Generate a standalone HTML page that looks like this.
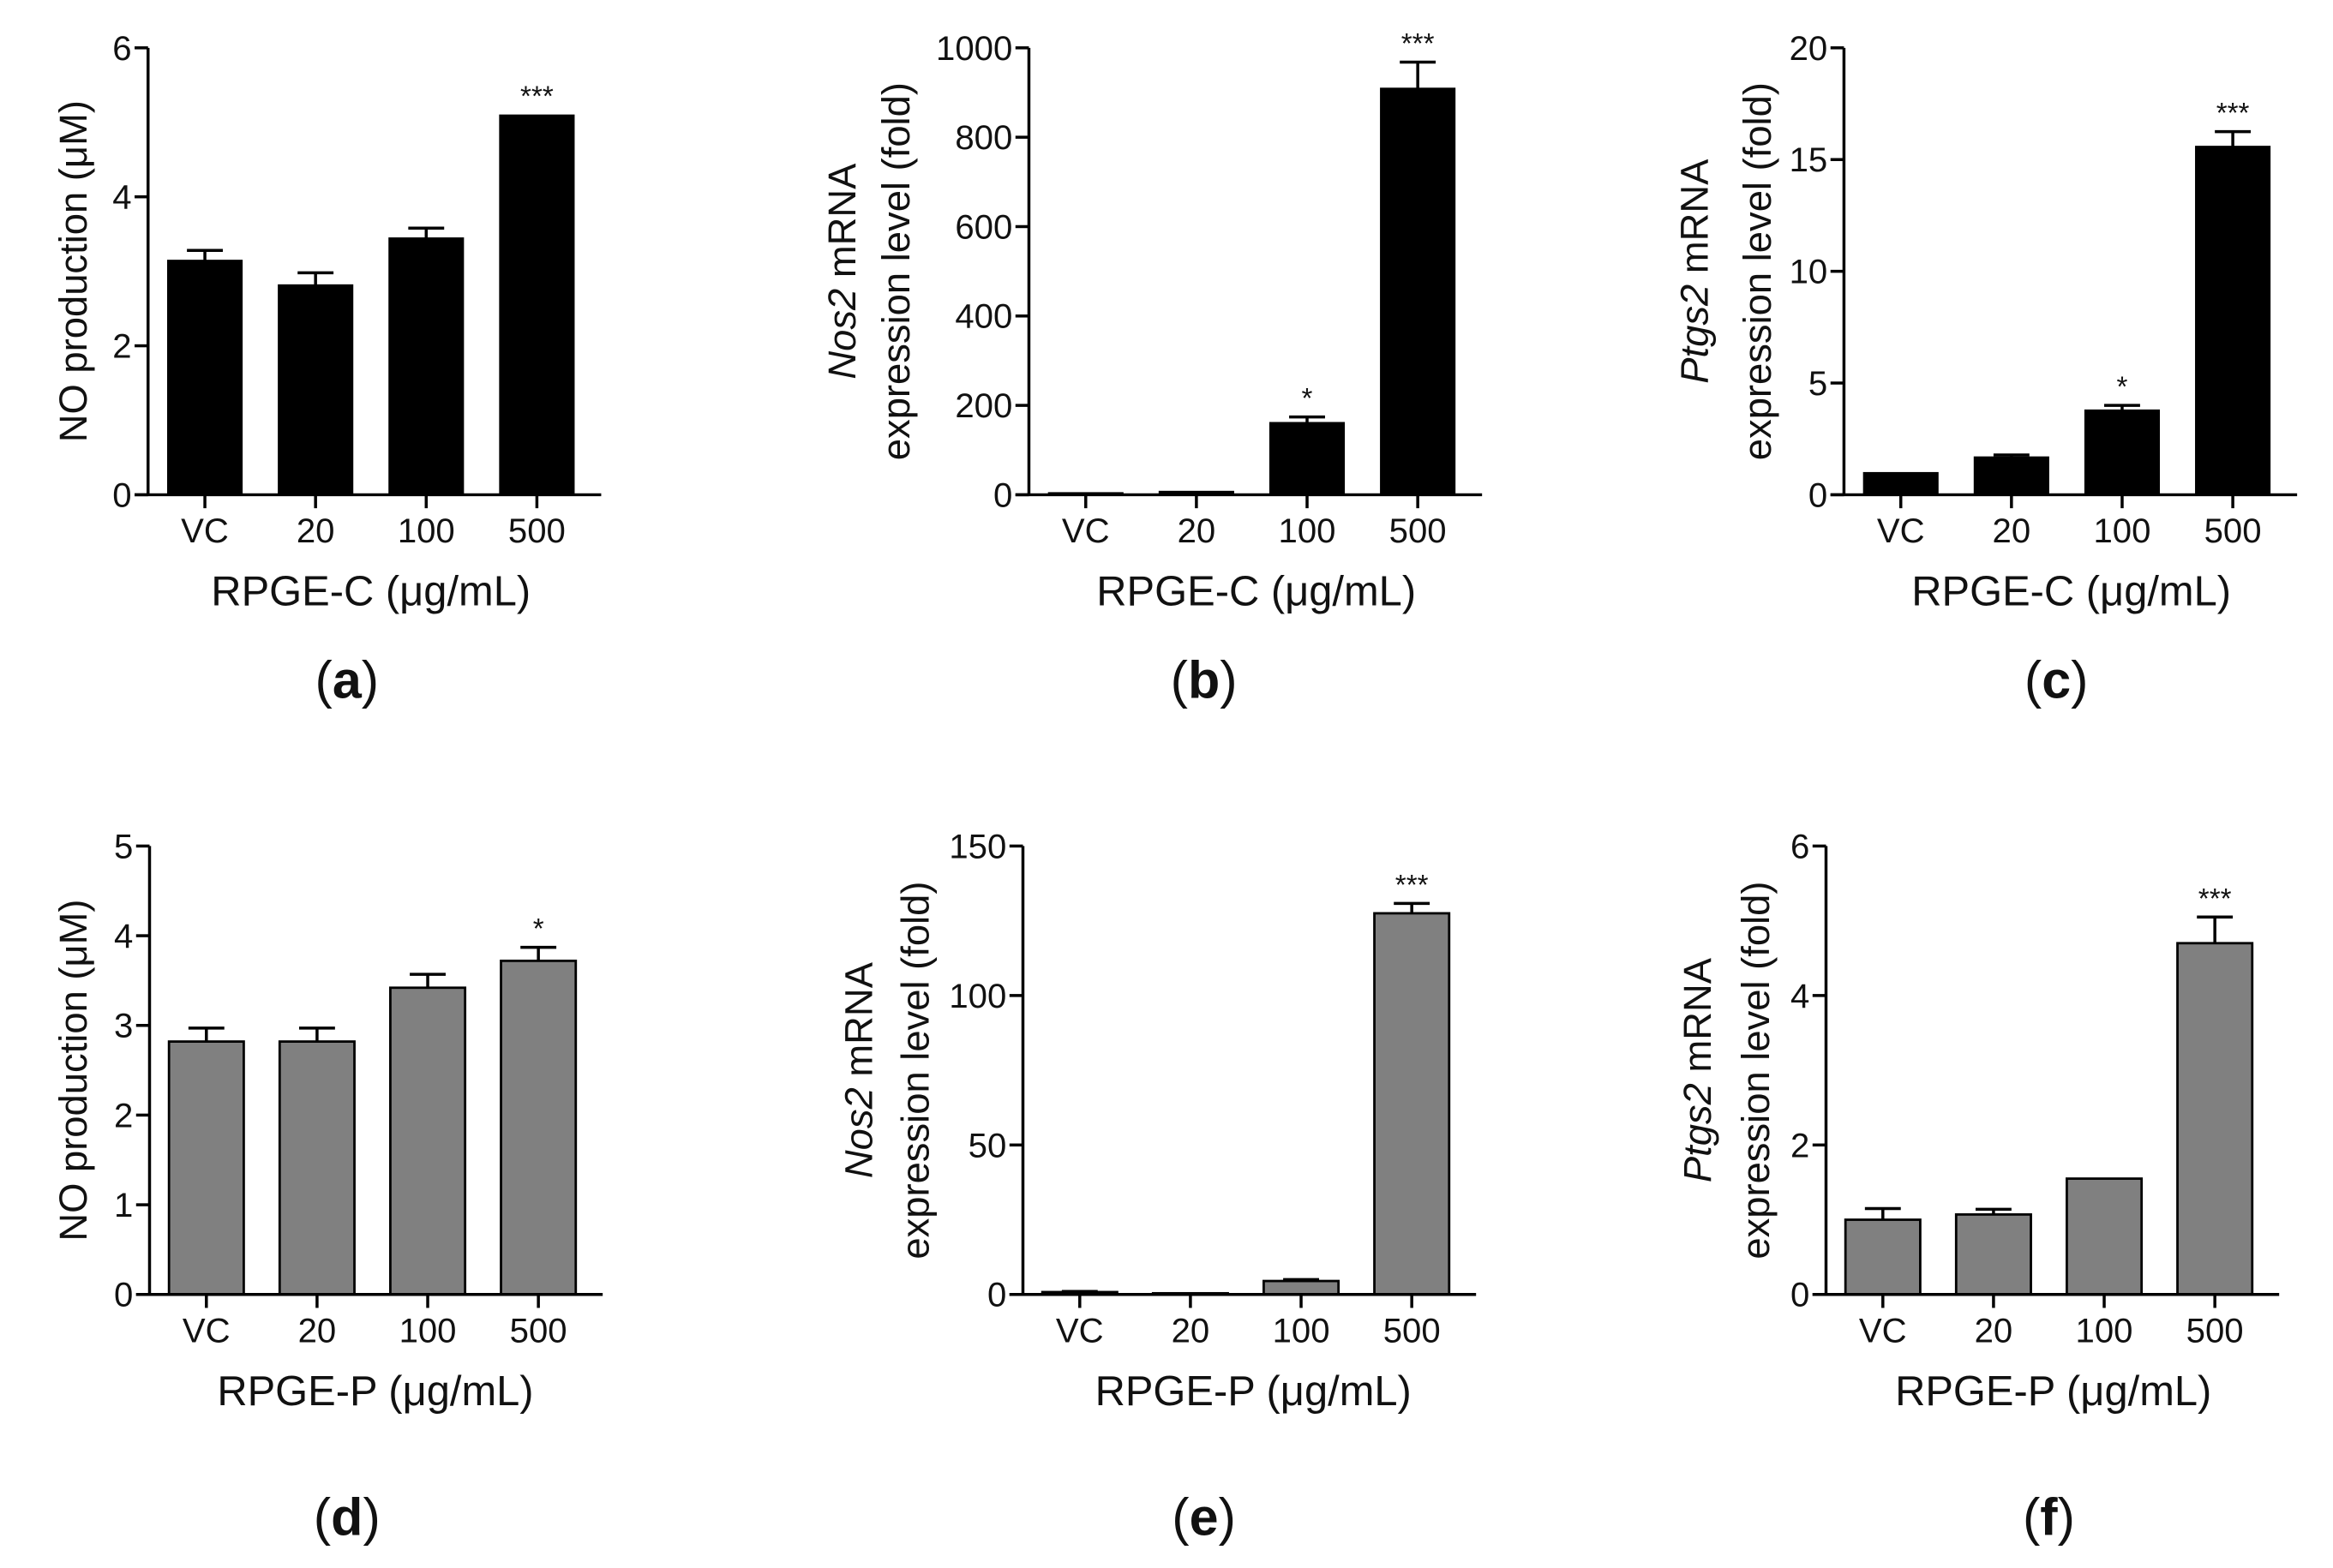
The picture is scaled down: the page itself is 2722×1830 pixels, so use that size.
<!DOCTYPE html>
<html><head><meta charset="utf-8"><style>
html,body{margin:0;padding:0;background:#fff;}
svg{display:block;}
text{font-family:"Liberation Sans",Arial,sans-serif;fill:#111;}
</style></head><body>
<svg id="fig" width="2722" height="1830" viewBox="0 0 1560 1049" preserveAspectRatio="none" xmlns="http://www.w3.org/2000/svg"></svg>
<script>
// categories
const categories = ["VC","20","100","500"];
// series values per panel
const valsA = [3.15, 2.82, 3.45, 5.1];
const errA  = [0.13, 0.16, 0.13, 0.0];
const sigA  = ["", "", "", "***"];
const valsB = [5, 8, 162, 910];
const errB  = [0, 0, 12, 58];
const sigB  = ["", "", "*", "***"];
const valsC = [1.0, 1.7, 3.8, 15.6];
const errC  = [0, 0.08, 0.2, 0.65];
const sigC  = ["", "", "*", "***"];
const valsD = [2.82, 2.82, 3.42, 3.72];
const errD  = [0.15, 0.15, 0.15, 0.15];
const sigD  = ["", "", "", "*"];
const valsE = [0.8, 0.4, 4.5, 127.5];
const errE  = [0.2, 0, 0.5, 3.3];
const sigE  = ["", "", "", "***"];
const valsF = [1.0, 1.07, 1.55, 4.7];
const errF  = [0.15, 0.07, 0, 0.35];
const sigF  = ["", "", "", "***"];
// tick labels
const ticksA = [0,2,4,6];
const ticksB = [0,200,400,600,800,1000];
const ticksC = [0,5,10,15,20];
const ticksD = [0,1,2,3,4,5];
const ticksE = [0,50,100,150];
const ticksF = [0,2,4,6];

const NS = "http://www.w3.org/2000/svg";
const svg = document.getElementById("fig");
function mk(tag, attrs, parent, txt){
  const e = document.createElementNS(NS, tag);
  for (const k in attrs) e.setAttribute(k, attrs[k]);
  if (txt !== undefined) e.textContent = txt;
  (parent||svg).appendChild(e);
  return e;
}

function panel(cfg){
  const g = mk("g", {});
  
  
  const ax = cfg.ax, y0 = cfg.y0, yTop = cfg.yTop;
  const max = cfg.ticks[cfg.ticks.length-1];
  const yS = v => y0 - (v/max)*(y0-yTop);
  const xS = i => ax + 38 + 74*i;
  const bw = 50;
  cfg.vals.forEach((v,i)=>{
    const top = yS(v + cfg.err[i]);
    if (cfg.err[i] > 0){
      const eb = mk("path", {d:`M${xS(i)} ${yS(v)} V${top} M${xS(i)-12} ${top} H${xS(i)+12}`, stroke:"#000","stroke-width":2, fill:"none"}, g);
      
      
    }
    const r = mk("rect", {x:xS(i)-bw/2, y:yS(v), width:bw, height:Math.max(y0-yS(v),0.8), fill:cfg.fill, stroke:"#000","stroke-width":cfg.fill==="#000"?0.5:1.6}, g);
    
    
    if (cfg.sig[i]){
      const s = mk("text", {x:xS(i), y:top-6, "text-anchor":"middle", "font-size":19}, g, cfg.sig[i]);
      
      
    }
  });
  const yl = mk("line", {x1:ax, y1:yTop, x2:ax, y2:y0, stroke:"#000","stroke-width":2}, g);
  
  
  const xl = mk("line", {x1:ax-9, y1:y0, x2:ax+303, y2:y0, stroke:"#000","stroke-width":2}, g);
  
  
  cfg.ticks.forEach(t=>{
    mk("line", {x1:ax-9, y1:yS(t), x2:ax, y2:yS(t), stroke:"#000","stroke-width":2}, g);
    const tl = mk("text", {x:ax-11, y:yS(t)+8, "text-anchor":"end", "font-size":23}, g, t);
    
    
  });
  categories.forEach((c,i)=>{
    mk("line", {x1:xS(i), y1:y0, x2:xS(i), y2:y0+9, stroke:"#000","stroke-width":2}, g);
    const tl = mk("text", {x:xS(i), y:y0+32, "text-anchor":"middle", "font-size":23}, g, c);
    
    
  });
  const xt = mk("text", {x:cfg.xtx, y:y0+74, "text-anchor":"middle", "font-size":28}, g, cfg.xtitle);
  
  
  const ym = (y0+yTop)/2;
  cfg.ytitle.forEach((ln,k)=>{
    const t = mk("text", {x:0, y:0, "text-anchor":"middle", "font-size":26, transform:`translate(${ln.x},${ym}) rotate(-90)`}, g);
    
    
    if (ln.it){ mk("tspan", {"font-style":"italic"}, t, ln.it); mk("tspan", {}, t, ln.rest); }
    else t.textContent = ln.rest;
  });
  const pl = mk("text", {x:cfg.plx, y:cfg.ply, "text-anchor":"middle", "font-size":35}, g);
  
  
  mk("tspan", {}, pl, "(");
  mk("tspan", {"font-weight":"bold"}, pl, cfg.id);
  mk("tspan", {}, pl, ")");
}

const C = "RPGE-C (\u03bcg/mL)", P = "RPGE-P (\u03bcg/mL)";
panel({id:"a", ax:99, y0:331, yTop:32, vals:valsA, err:errA, sig:sigA, ticks:ticksA, fill:"#000", xtitle:C, xtx:248,
  ytitle:[{x:58, rest:"NO production (\u03bcM)"}], plx:232, ply:467});
panel({id:"b", ax:688, y0:331, yTop:32, vals:valsB, err:errB, sig:sigB, ticks:ticksB, fill:"#000", xtitle:C, xtx:840,
  ytitle:[{x:572, it:"Nos2", rest:" mRNA"},{x:608, rest:"expression level (fold)"}], plx:805, ply:467});
panel({id:"c", ax:1233, y0:331, yTop:32, vals:valsC, err:errC, sig:sigC, ticks:ticksC, fill:"#000", xtitle:C, xtx:1385,
  ytitle:[{x:1142, it:"Ptgs2", rest:" mRNA"},{x:1184, rest:"expression level (fold)"}], plx:1375, ply:467});
panel({id:"d", ax:100, y0:866, yTop:566, vals:valsD, err:errD, sig:sigD, ticks:ticksD, fill:"#808080", xtitle:P, xtx:251,
  ytitle:[{x:58, rest:"NO production (\u03bcM)"}], plx:232, ply:1027});
panel({id:"e", ax:684, y0:866, yTop:566, vals:valsE, err:errE, sig:sigE, ticks:ticksE, fill:"#808080", xtitle:P, xtx:838,
  ytitle:[{x:583, it:"Nos2", rest:" mRNA"},{x:621, rest:"expression level (fold)"}], plx:805, ply:1027});
panel({id:"f", ax:1221, y0:866, yTop:566, vals:valsF, err:errF, sig:sigF, ticks:ticksF, fill:"#808080", xtitle:P, xtx:1373,
  ytitle:[{x:1144, it:"Ptgs2", rest:" mRNA"},{x:1183, rest:"expression level (fold)"}], plx:1370, ply:1027});
</script>
</body></html>
